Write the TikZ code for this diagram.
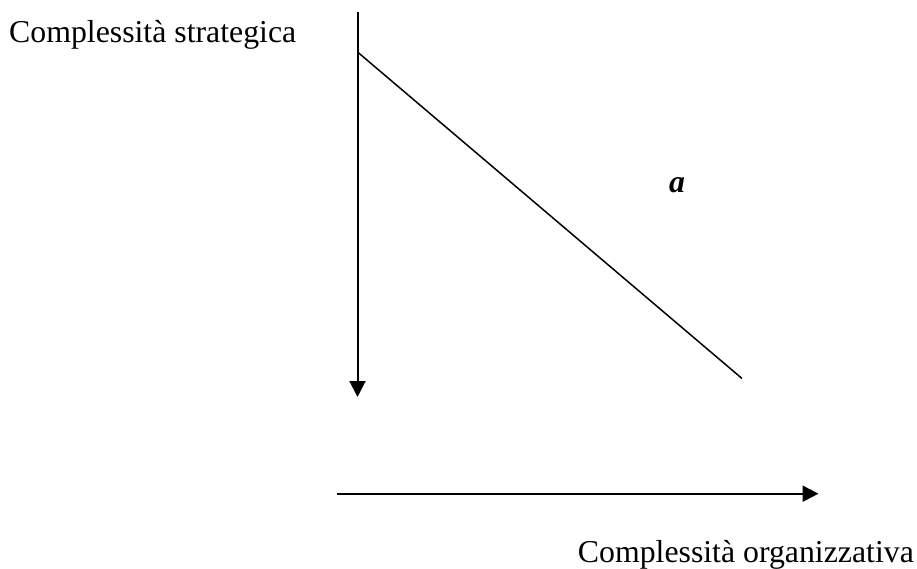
\documentclass[tikz,border=0pt]{standalone}
\usepackage{fontspec}
\setmainfont{Liberation Serif}
\usetikzlibrary{arrows.meta}
\begin{document}
\begin{tikzpicture}[x=1pt,y=-1pt,
  axis/.style={line width=2pt,-{Triangle[length=16pt,width=16pt]}},
  lbl/.style={inner sep=0pt,font=\fontsize{31.8}{38}\selectfont}]
\useasboundingbox (0,0) rectangle (917,569);
\coordinate (vtop) at (357.5,12);
\coordinate (vbot) at (357.5,397);
\coordinate (dstart) at (357.5,52);
\coordinate (dend) at (742,378.5);
\coordinate (hstart) at (337,493.7);
\coordinate (hend) at (818.5,493.7);
\draw[axis] (vtop) -- (vbot);
\draw[line width=1.5pt] (dstart) -- (dend);
\draw[axis] (hstart) -- (hend);
\node[lbl,anchor=base west] (ls) at (9,43) {Complessità strategica};
\node[lbl,anchor=base east] (lo) at (914,562) {Complessità organizzativa};
\node[lbl,anchor=base] (la) at (677,193) {\textbf{\textit{a}}};
\end{tikzpicture}
\end{document}
